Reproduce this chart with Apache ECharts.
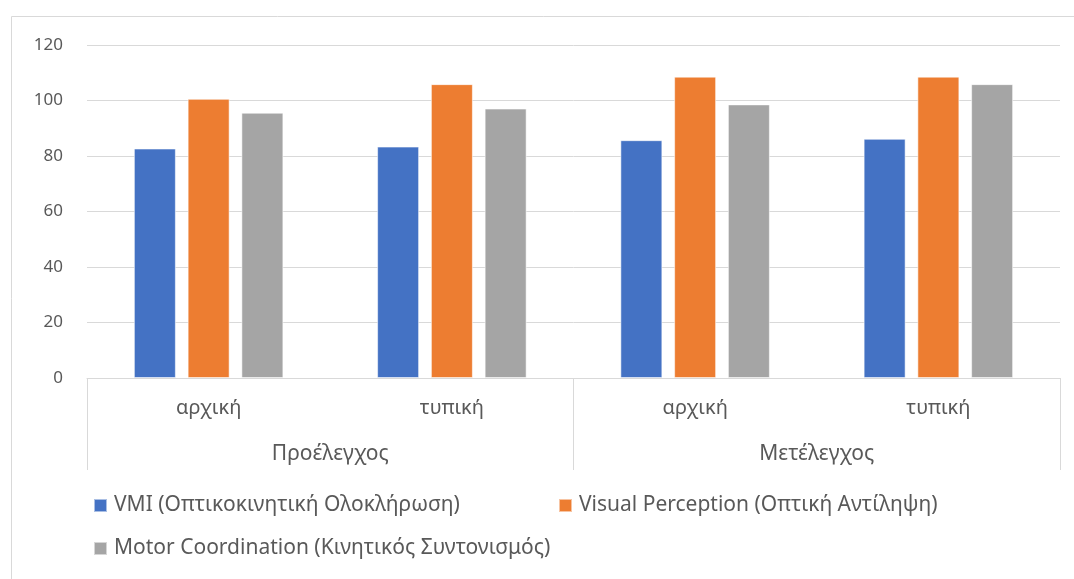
<!DOCTYPE html>
<html>
<head>
<meta charset="utf-8">
<script src="https://cdn.jsdelivr.net/npm/echarts@6/dist/echarts.min.js"></script>
<style>
  html, body { margin: 0; padding: 0; background: #fff; }
  #chart { width: 1074px; height: 579px; }
</style>
</head>
<body>
<div id="chart"></div>
<script>
// Inner category level (bars) and outer group level
const categories = ['αρχική', 'τυπική', 'αρχική', 'τυπική'];
const groups = ['Προέλεγχος', 'Μετέλεγχος'];

// Series names
const seriesNames = [
  'VMI (Οπτικοκινητική Ολοκλήρωση)',
  'Visual Perception (Οπτική Αντίληψη)',
  'Motor Coordination (Κινητικός Συντονισμός)'
];

// Scores per category
const vmi = [82.7, 83.4, 85.7, 86.2];
const visualPerception = [100.6, 105.9, 108.6, 108.6];
const motorCoordination = [95.6, 97.1, 98.6, 105.9];

// Value axis ticks
const yMin = 0, yMax = 120, yStep = 20;

const colors = ['#4472C4', '#ED7D31', '#A5A5A5'];
const textColor = '#595959';
const lineColor = '#D9D9D9';
const fontFamily = '"Noto Sans", "Open Sans", sans-serif';

const chart = echarts.init(document.getElementById('chart'), null, { renderer: 'canvas' });

function barSeries(name, data, color) {
  return {
    name: name,
    type: 'bar',
    xAxisIndex: 0,
    data: data,
    barWidth: 42,
    barGap: '28%',
    itemStyle: { color: color, borderColor: 'rgba(255,255,255,0.55)', borderWidth: 1 },
    emphasis: { disabled: true }
  };
}

function legendAt(name, left, top) {
  return {
    data: [name],
    left: left,
    top: top,
    icon: 'rect',
    itemWidth: 13,
    itemHeight: 13,
    itemGap: 0,
    selectedMode: false,
    textStyle: { color: textColor, fontSize: 21, fontFamily: fontFamily, padding: [0, 0, 0, 2] }
  };
}

chart.setOption({
  animation: false,
  color: colors,
  graphic: [{
    type: 'rect',
    shape: { x: 11.5, y: 16.5, width: 1100, height: 620 },
    style: { fill: 'none', stroke: lineColor, lineWidth: 1 },
    silent: true
  }],
  grid: { left: 87, right: 14, top: 45, bottom: 201 },
  legend: [
    legendAt(seriesNames[0], 88, 490),
    legendAt(seriesNames[1], 553, 490),
    legendAt(seriesNames[2], 88, 533)
  ],
  xAxis: [{
    type: 'category',
    data: categories,
    position: 'bottom',
    axisLine: { show: true, lineStyle: { color: lineColor, width: 1 } },
    axisTick: { show: false },
    axisLabel: { color: textColor, fontSize: 20, fontFamily: fontFamily, margin: 20, interval: 0 }
  }, {
    type: 'category',
    data: groups,
    position: 'bottom',
    axisLine: { show: false },
    axisTick: { show: true, length: 92, lineStyle: { color: lineColor, width: 1 } },
    axisLabel: { color: textColor, fontSize: 21, fontFamily: fontFamily, margin: 66, interval: 0 }
  }],
  yAxis: {
    type: 'value',
    min: yMin,
    max: yMax,
    interval: yStep,
    axisLine: { show: false },
    axisTick: { show: false },
    axisLabel: { color: textColor, fontSize: 17, fontFamily: fontFamily, margin: 24 },
    splitLine: { lineStyle: { color: lineColor, width: 1 } }
  },
  series: [
    barSeries(seriesNames[0], vmi, colors[0]),
    barSeries(seriesNames[1], visualPerception, colors[1]),
    barSeries(seriesNames[2], motorCoordination, colors[2])
  ]
});
</script>
</body>
</html>
